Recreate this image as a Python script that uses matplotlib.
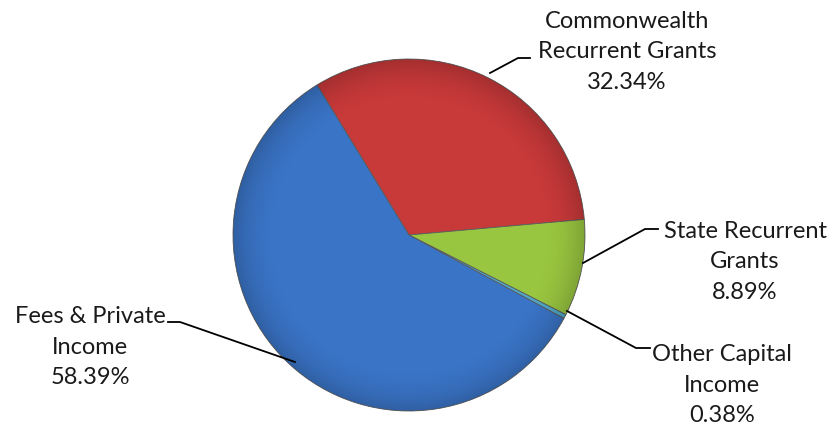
import matplotlib
matplotlib.use("Agg")
import matplotlib.pyplot as plt
import numpy as np
from matplotlib.patches import Circle

categories = ["Commonwealth\nRecurrent Grants", "State Recurrent\nGrants",
              "Other Capital\nIncome", "Fees & Private\nIncome"]
values = [32.34, 8.89, 0.38, 58.39]
colors = ["#C8393A", "#99C640", "#4FA8C8", "#3A74C6"]

W, H = 835, 432
fig = plt.figure(figsize=(W / 100, H / 100), dpi=100)
ax = fig.add_axes([0, 0, 1, 1])

cx, cy, r = 409, H - 235, 176
wedges, _ = ax.pie(values, colors=colors, startangle=121.5, counterclock=False,
                   center=(cx, cy), radius=r, frame=True,
                   wedgeprops=dict(edgecolor="#5a5a5a", linewidth=0.6))
ax.set_xlim(0, W)
ax.set_ylim(0, H)
ax.set_aspect("equal")
ax.axis("off")

# subtle radial shading
yy, xx = np.mgrid[0:H, 0:W]
d = np.sqrt((xx - cx) ** 2 + ((H - yy) - cy) ** 2) / r
shade = np.zeros((H, W, 4))
shade[..., 3] = np.clip((d - 0.75) / 0.25, 0, 1) ** 2 * 0.18
img = ax.imshow(shade, extent=(0, W, 0, H), origin="upper", zorder=3)
img.set_clip_path(Circle((cx, cy), r, transform=ax.transData))

font = "Lato"
fs = 17
labels = [f"{c}\n{v:.2f}%" for c, v in zip(categories, values)]
label_pos = [(627, 52), (745, 262), (722, 385), (90, 347)]
leaders = [
    [(490, 73), (518, 58), (530, 58)],
    [(583, 263), (645, 229), (658, 229)],
    [(567, 311), (636, 348), (650, 348)],
    [(295, 362), (180, 322), (168, 322)],
]
for lab, (lx, ly), pts in zip(labels, label_pos, leaders):
    ax.text(lx, H - ly, lab, ha="center", va="center", fontsize=fs,
            family=font, color="#1a1a1a", linespacing=1.56)
    xs = [p[0] for p in pts]
    ys = [H - p[1] for p in pts]
    ax.plot(xs, ys, color="black", lw=1.3, zorder=4)

fig.savefig("out.png", dpi=100)
